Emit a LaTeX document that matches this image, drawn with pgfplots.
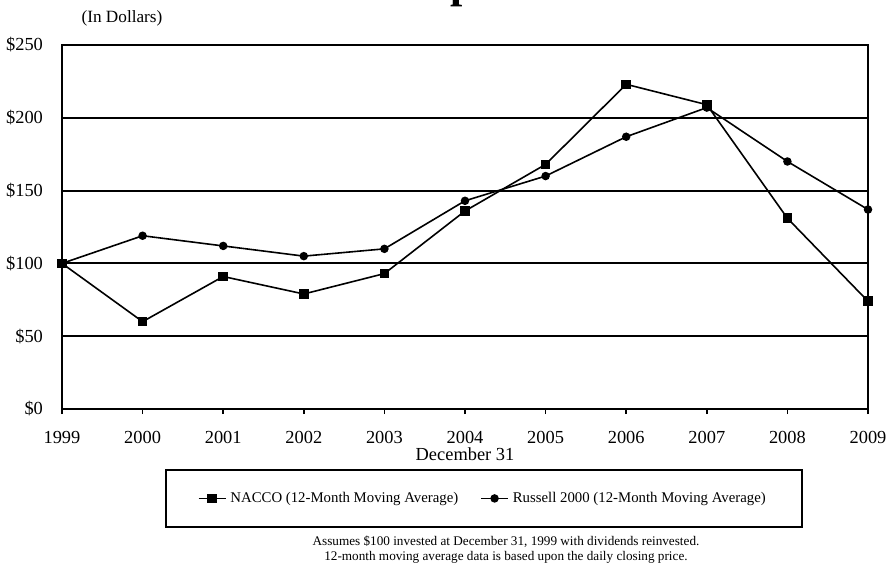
\documentclass[border=0pt]{standalone}
\usepackage{fontspec}
\setmainfont{Liberation Serif}
\usepackage{pgfplots}
\pgfplotsset{compat=1.18}

% 12-month moving averages, $100 invested at 31 Dec 1999
\pgfplotstableread{
year nacco russell
1999 100 100
2000 60  119
2001 91  112
2002 79  105
2003 93  110
2004 136 143
2005 168 160
2006 223 187
2007 209 207
2008 131 170
2009 74  137
}\perfdata

\begin{document}
\begin{tikzpicture}
\useasboundingbox (0,0) rectangle (444pt,282pt);

% chart heading (runs off the top edge)
\node[anchor=base west, inner sep=0, font=\fontsize{22}{22}\selectfont\bfseries]
  at (225pt,283.5pt) {p};

\node[font=\fontsize{8.6}{10}\selectfont] at (61pt,273pt) {(In Dollars)};

\begin{axis}[
  at={(31pt,77.5pt)}, anchor=south west,
  scale only axis, width=403pt, height=182pt,
  xmin=1999, xmax=2009, ymin=0, ymax=250,
  xtick={1999,2000,2001,2002,2003,2004,2005,2006,2007,2008,2009},
  xticklabels={1999,2000,2001,2002,2003,2004,2005,2006,2007,2008,2009},
  ytick={0,50,100,150,200,250},
  yticklabels={\$0,\$50,\$100,\$150,\$200,\$250},
  ymajorgrids,
  grid style={black, line width=1pt},
  axis line style={black, line width=1pt},
  xtick pos=lower, tick align=outside,
  major tick length=2.5pt,
  xtick style={black, line width=0.8pt},
  ytick style={draw=none},
  ticklabel style={font=\fontsize{9.2}{10}\selectfont},
  xticklabel style={yshift=-5pt},
  yticklabel style={xshift=-3.5pt},
  xlabel={December 31},
  xlabel style={font=\fontsize{9.2}{10}\selectfont, at={(axis description cs:0.5,-0.142)}, anchor=base, inner sep=0},
  legend columns=2,
  legend style={
    at={(axis description cs:0.1278,-0.1648)}, anchor=north west,
    draw=black, line width=0.8pt, inner xsep=16pt, inner ysep=9pt,
    font=\fontsize{7.4}{8.4}\selectfont,
    /tikz/every even column/.append style={column sep=9pt},
  },
  legend image code/.code={
    \draw[#1, line width=0.8pt] (0pt,0pt) -- (13.5pt,0pt);
    \draw[#1, only marks] plot coordinates {(6.75pt,0pt)};
  },
]
\addplot[black, line width=0.8pt, mark=square*, mark size=2pt,
  mark options={solid}] table[x=year, y=nacco] {\perfdata};
\addlegendentry{NACCO (12-Month Moving Average)}
\addplot[black, line width=0.8pt, mark=*, mark size=1.7pt,
  mark options={solid}] table[x=year, y=russell] {\perfdata};
\addlegendentry{Russell 2000 (12-Month Moving Average)}
\end{axis}

\node[align=center, anchor=north, inner sep=0, font=\fontsize{6.6}{7.2}\selectfont]
  at (253pt,14pt)
  {Assumes \$100 invested at December 31, 1999 with dividends reinvested.\\
   12-month moving average data is based upon the daily closing price.};
\end{tikzpicture}
\end{document}
